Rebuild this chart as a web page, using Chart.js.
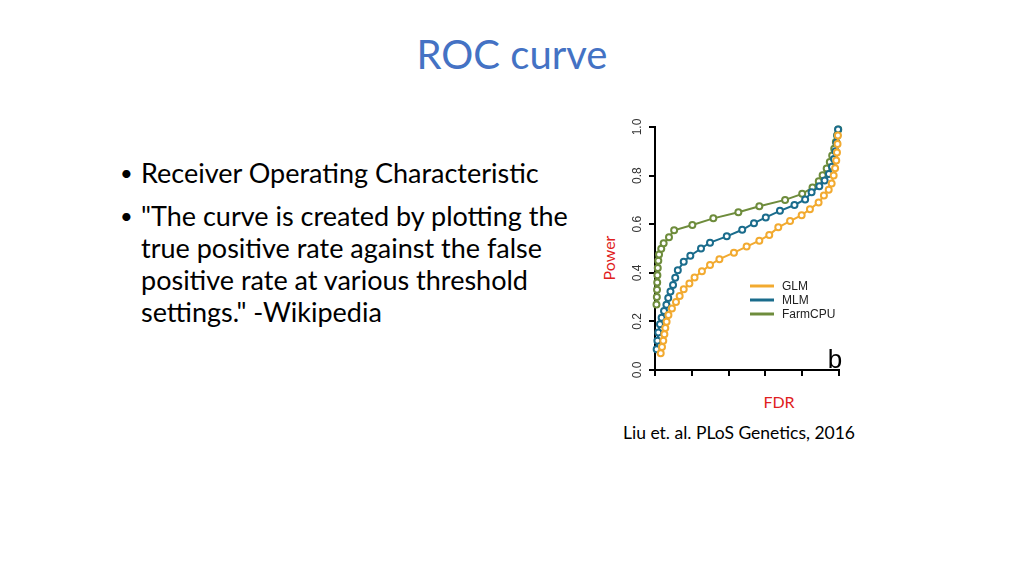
<!DOCTYPE html>
<html>
<head>
<meta charset="utf-8">
<script src="https://cdn.jsdelivr.net/npm/chart.js@4"></script>
<style>
  body { margin: 0; width: 1024px; height: 576px; background: #fff; position: relative; overflow: hidden; font-family: Lato, "Open Sans", sans-serif; }
  #title { position: absolute; left: 0; width: 1024px; top: 29px; text-align: center; font-size: 40px; line-height: 50px; color: #4472C4; }
  #bullets { position: absolute; left: 120px; top: 157px; width: 480px; font-size: 27px; line-height: 32px; color: #000; white-space: nowrap; }
  .item { position: relative; padding-left: 21px; margin-bottom: 11px; }
  .item:before { content: "\2022"; position: absolute; left: 0; top: 0; font-size: 22px; }
  #power { position: absolute; left: 608px; top: 258px; transform: translate(-50%, -50%) rotate(-90deg); font-size: 16px; color: #E02020; white-space: nowrap; }
  #fdr { position: absolute; left: 779px; top: 401px; transform: translate(-50%, -50%); font-size: 16px; color: #E02020; }
  #cite { position: absolute; left: 739px; top: 432px; transform: translate(-50%, -50%); font-size: 17.5px; color: #000; white-space: nowrap; }
  #roc { position: absolute; left: 600px; top: 100px; }
</style>
</head>
<body>
<div id="title">ROC curve</div>
<div id="bullets">
  <div class="item">Receiver Operating Characteristic</div>
  <div class="item">"The curve is created by plotting the<br>true positive rate against the false<br>positive rate at various threshold<br>settings." -Wikipedia</div>
</div>
<div id="power">Power</div>
<div id="fdr">FDR</div>
<div id="cite">Liu et. al. PLoS Genetics, 2016</div>
<canvas id="roc" width="260" height="300"></canvas>
<script>
// FDR (x) and power (y)
var glmX = [0.031, 0.038, 0.045, 0.051, 0.056, 0.063, 0.073, 0.092, 0.114, 0.134, 0.156, 0.187, 0.215, 0.255, 0.299, 0.35, 0.429, 0.498, 0.567, 0.621, 0.67, 0.734, 0.797, 0.842, 0.889, 0.918, 0.944, 0.96, 0.971, 0.979, 0.985, 0.989, 0.992, 0.994];
var glmY = [0.069, 0.095, 0.12, 0.147, 0.173, 0.199, 0.226, 0.253, 0.28, 0.305, 0.332, 0.356, 0.381, 0.406, 0.432, 0.456, 0.483, 0.508, 0.532, 0.556, 0.587, 0.613, 0.637, 0.662, 0.689, 0.718, 0.742, 0.768, 0.8, 0.83, 0.862, 0.895, 0.93, 0.965];

var mlmX = [0.009, 0.013, 0.018, 0.027, 0.036, 0.049, 0.062, 0.072, 0.084, 0.098, 0.11, 0.124, 0.156, 0.192, 0.25, 0.299, 0.39, 0.474, 0.538, 0.602, 0.679, 0.758, 0.816, 0.851, 0.893, 0.922, 0.945, 0.962, 0.973, 0.981, 0.987, 0.991, 0.995];
var mlmY = [0.085, 0.12, 0.154, 0.188, 0.215, 0.243, 0.269, 0.296, 0.323, 0.35, 0.38, 0.41, 0.445, 0.47, 0.5, 0.524, 0.55, 0.577, 0.604, 0.628, 0.655, 0.679, 0.702, 0.731, 0.756, 0.78, 0.807, 0.836, 0.868, 0.9, 0.935, 0.965, 0.99];

var farmX = [0.008, 0.01, 0.011, 0.012, 0.013, 0.015, 0.018, 0.022, 0.034, 0.047, 0.076, 0.104, 0.203, 0.317, 0.453, 0.567, 0.707, 0.8, 0.856, 0.89, 0.911, 0.933, 0.95, 0.963, 0.974, 0.983, 0.99, 0.996];
var farmY = [0.27, 0.3, 0.33, 0.36, 0.39, 0.42, 0.45, 0.475, 0.499, 0.522, 0.546, 0.575, 0.597, 0.624, 0.649, 0.674, 0.7, 0.725, 0.751, 0.777, 0.801, 0.829, 0.856, 0.883, 0.911, 0.938, 0.966, 0.99];

var seriesNames = ['GLM', 'MLM', 'FarmCPU'];
var seriesColors = ['rgb(242,170,48)', 'rgb(26,108,140)', 'rgb(110,140,60)'];
var yTickLabels = ['0.0', '0.2', '0.4', '0.6', '0.8', '1.0'];

function pts(xs, ys) {
  return xs.map(function (x, i) { return { x: x, y: ys[i] }; });
}

function makeSet(i, data) {
  return {
    label: seriesNames[i],
    data: data,
    borderColor: seriesColors[i],
    backgroundColor: '#fff',
    borderWidth: 2,
    pointRadius: 3,
    pointBorderWidth: 2,
    pointBackgroundColor: '#fff',
    pointBorderColor: seriesColors[i],
    clip: false
  };
}

var extras = {
  id: 'extras',
  afterDraw: function (chart) {
    var ctx = chart.ctx;
    var area = chart.chartArea;
    var ys = chart.scales.y;
    ctx.save();
    // rotated y tick labels, R style
    ctx.fillStyle = '#333';
    ctx.font = '12px "Liberation Sans", Arial, sans-serif';
    ctx.textAlign = 'center';
    ctx.textBaseline = 'middle';
    yTickLabels.forEach(function (t) {
      var py = ys.getPixelForValue(parseFloat(t));
      ctx.save();
      ctx.translate(area.left - 17, py);
      ctx.rotate(-Math.PI / 2);
      ctx.fillText(t, 0, 0);
      ctx.restore();
    });
    // legend
    ctx.font = '12px "Liberation Sans", Arial, sans-serif';
    ctx.textAlign = 'left';
    seriesNames.forEach(function (n, i) {
      var ly = area.top + 159 + i * 14;
      ctx.strokeStyle = seriesColors[i];
      ctx.lineWidth = 3;
      ctx.beginPath();
      ctx.moveTo(area.left + 95, ly);
      ctx.lineTo(area.left + 119, ly);
      ctx.stroke();
      ctx.fillStyle = '#222';
      ctx.fillText(n, area.left + 127, ly + 1);
    });
    // panel letter
    ctx.fillStyle = '#000';
    ctx.font = '26px "Liberation Sans", Arial, sans-serif';
    ctx.textAlign = 'center';
    ctx.textBaseline = 'alphabetic';
    ctx.fillText('b', area.right - 4, area.bottom - 2);
    ctx.restore();
  }
};

var axisGrid = { display: true, drawOnChartArea: false, drawTicks: true, tickLength: 6, color: '#000', lineWidth: 2 };

new Chart(document.getElementById('roc').getContext('2d'), {
  type: 'line',
  data: {
    datasets: [
      makeSet(0, pts(glmX, glmY)),
      makeSet(1, pts(mlmX, mlmY)),
      makeSet(2, pts(farmX, farmY))
    ]
  },
  options: {
    responsive: false,
    animation: false,
    layout: { padding: { left: 45, right: 21, top: 27, bottom: 20 } },
    plugins: { legend: { display: false }, tooltip: { enabled: false } },
    scales: {
      x: {
        type: 'linear', min: 0, max: 1,
        afterFit: function (s) { s.height = 10; },
        ticks: { stepSize: 0.2, callback: function () { return ''; } },
        grid: axisGrid,
        border: { display: true, color: '#000', width: 2 }
      },
      y: {
        type: 'linear', min: 0, max: 1,
        afterFit: function (s) { s.width = 10; },
        ticks: { stepSize: 0.2, callback: function () { return ''; } },
        grid: axisGrid,
        border: { display: true, color: '#000', width: 2 }
      }
    }
  },
  plugins: [extras]
});
</script>
</body>
</html>
